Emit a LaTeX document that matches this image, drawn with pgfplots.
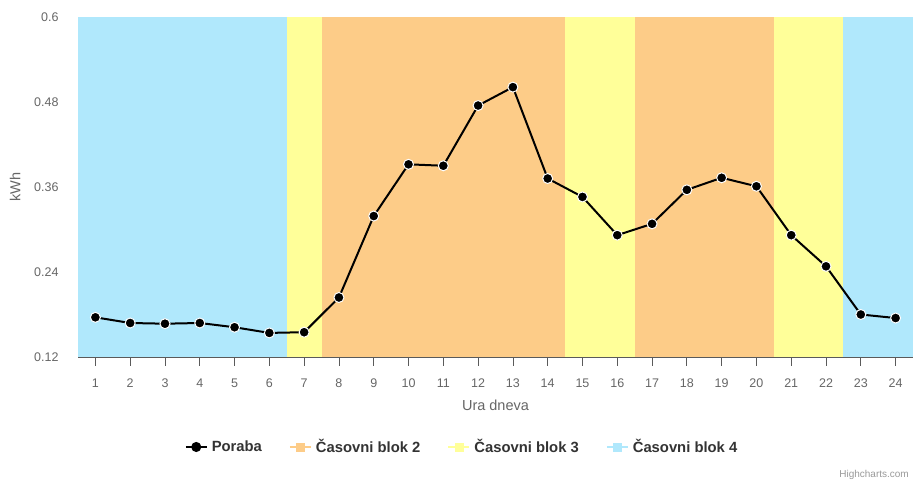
\documentclass[border=0pt]{standalone}
\usepackage{pgfplots}
\pgfplotsset{compat=1.18}
\usepackage{fontspec}
\setmainfont{Liberation Sans}
\definecolor{bandblue}{RGB}{176,232,252}
\definecolor{bandorange}{RGB}{253,204,136}
\definecolor{bandyellow}{RGB}{255,255,153}
\definecolor{txtgray}{RGB}{102,102,102}
\definecolor{axgray}{RGB}{90,90,90}
\definecolor{legtext}{RGB}{51,51,51}
\pgfplotstableread{
x y
1 0.176
2 0.168
3 0.167
4 0.168
5 0.162
6 0.154
7 0.155
8 0.204
9 0.319
10 0.392
11 0.390
12 0.475
13 0.501
14 0.372
15 0.346
16 0.292
17 0.308
18 0.356
19 0.373
20 0.361
21 0.292
22 0.248
23 0.180
24 0.175
}\poraba
\begin{document}
\begin{tikzpicture}[x=1pt,y=1pt]
\path[use as bounding box] (0,0) rectangle (917,484);
\begin{axis}[
  at={(78pt,127pt)}, anchor=south west,
  width=835pt, height=340pt, scale only axis,
  xmin=0.5, xmax=24.5, ymin=0.12, ymax=0.6,
  axis x line*=bottom, axis y line*=left,
  x axis line style={axgray, line width=0.8pt, -},
  y axis line style={draw=none},
  xtick={1,...,24},
  ytick={0.12,0.24,0.36,0.48,0.6},
  yticklabels={0.12,0.24,0.36,0.48,0.6},
  tick align=outside,
  major tick length=9pt,
  xtick style={axgray, line width=0.8pt},
  ytick style={draw=none},
  /pgf/number format/assume math mode=true,
  ticklabel style={font=\fontsize{12.5}{14}\selectfont, text=txtgray},
  xticklabel style={yshift=-9pt},
  yticklabel style={xshift=-7pt},
  xlabel={Ura dneva}, ylabel={kWh},
  label style={font=\fontsize{14.5}{16}\selectfont, text=txtgray},
  xlabel style={at={(axis description cs:0.5,-0.141)}, anchor=center},
  ylabel style={at={(axis description cs:-0.0754,0.5)}, anchor=center},
  legend style={at={(axis description cs:0.4599,-0.2647)}, anchor=center,
    draw=none, fill=none, font=\bfseries\fontsize{14.8}{16}\selectfont, text=legtext,
    legend columns=4,
    /tikz/every odd column/.append style={column sep=2pt},
    /tikz/every even column/.append style={column sep=25pt}},
  legend cell align=left,
]
\addplot[draw=none, fill=bandblue, forget plot] coordinates {(0.5,0.6) (6.5,0.6)} \closedcycle;
\addplot[draw=none, fill=bandyellow, forget plot] coordinates {(6.5,0.6) (7.5,0.6)} \closedcycle;
\addplot[draw=none, fill=bandorange, forget plot] coordinates {(7.5,0.6) (14.5,0.6)} \closedcycle;
\addplot[draw=none, fill=bandyellow, forget plot] coordinates {(14.5,0.6) (16.5,0.6)} \closedcycle;
\addplot[draw=none, fill=bandorange, forget plot] coordinates {(16.5,0.6) (20.5,0.6)} \closedcycle;
\addplot[draw=none, fill=bandyellow, forget plot] coordinates {(20.5,0.6) (22.5,0.6)} \closedcycle;
\addplot[draw=none, fill=bandblue, forget plot] coordinates {(22.5,0.6) (24.5,0.6)} \closedcycle;
\addplot[black, line width=2pt, mark=*, mark size=5pt,
  mark options={fill=black, draw=white, line width=1pt},
  legend image code/.code={
    \draw[black, line width=2pt] (0pt,0pt) -- (21pt,0pt);
    \fill[black] (10.5pt,0pt) circle (4pt);
  }] table[x=x, y=y] {\poraba};
\addlegendentry{Poraba}
\addlegendimage{legend image code/.code={
    \draw[bandorange, line width=2pt] (0pt,0pt) -- (21pt,0pt);
    \fill[bandorange] (6.5pt,-4pt) rectangle (14.5pt,4pt);}}
\addlegendentry{Časovni blok 2}
\addlegendimage{legend image code/.code={
    \draw[bandyellow, line width=2pt] (0pt,0pt) -- (21pt,0pt);
    \fill[bandyellow] (6.5pt,-4pt) rectangle (14.5pt,4pt);}}
\addlegendentry{Časovni blok 3}
\addlegendimage{legend image code/.code={
    \draw[bandblue, line width=2pt] (0pt,0pt) -- (21pt,0pt);
    \fill[bandblue] (6.5pt,-4pt) rectangle (14.5pt,4pt);}}
\addlegendentry{Časovni blok 4}
\end{axis}
\node[anchor=south east, inner sep=0pt, font=\fontsize{10}{12}\selectfont, text={rgb,255:red,153;green,153;blue,153}] at (909,4) {Highcharts.com};
\end{tikzpicture}
\end{document}
